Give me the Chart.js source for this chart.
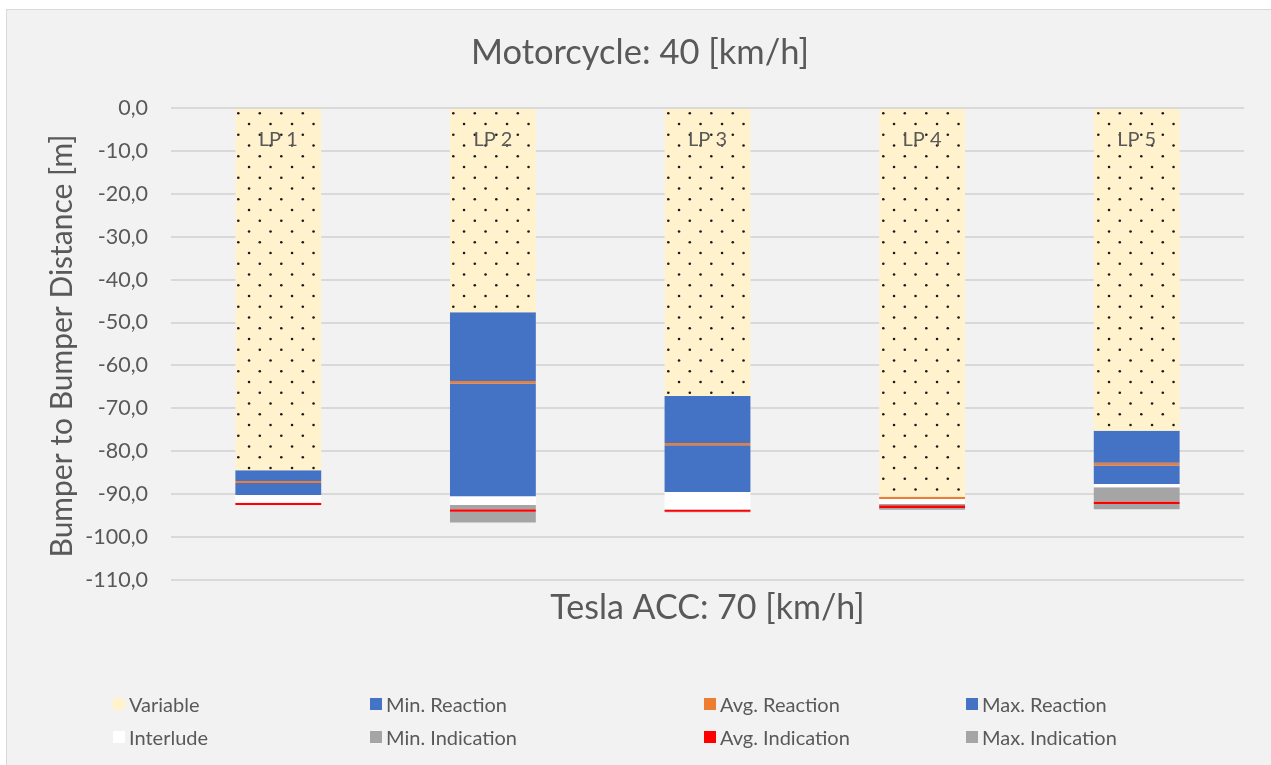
<!DOCTYPE html>
<html>
<head>
<meta charset="utf-8">
<script src="https://cdn.jsdelivr.net/npm/chart.js@4.4.1/dist/chart.umd.min.js"></script>
<style>
  body { margin: 0; background: #ffffff; font-family: Lato, sans-serif; }
  #wrap { position: relative; width: 1271px; height: 765px; overflow: hidden; }
  #frame { position: absolute; left: 6px; top: 9px; right: 0; bottom: 0;
           background: #F2F2F2; border-left: 1px solid #D9D9D9; border-top: 1px solid #D9D9D9; }
  #grafico { position: absolute; left: 0; top: 0; }
  .leg { position: absolute; display: flex; align-items: center; color: #595959; font-size: 20px; white-space: nowrap; }
  .leg span.box { width: 12px; height: 12px; margin-right: 4px; display: inline-block; }
</style>
</head>
<body>
<div id="wrap">
  <div id="frame"></div>
  <canvas id="grafico" width="1271" height="765"></canvas>
  <div id="legenda"></div>
</div>
<script>
// Pontos de medição (LP) e segmentos empilhados, em metros (valores negativos)
const categorias = ['LP 1', 'LP 2', 'LP 3', 'LP 4', 'LP 5'];
const variable      = [-84.4, -47.6, -67.1, -90.6, -75.2];
const minReaction   = [-2.5, -16.0, -11.0, 0, -7.5];
const avgReaction   = [-0.5, -0.6, -0.5, -0.5, -0.6];
const maxReaction   = [-2.8, -26.3, -10.9, 0, -4.3];
const interlude     = [-1.8, -2.0, -4.0, -1.2, -0.8];
const minIndication = [0, -1.0, -0.1, -0.3, -3.3];
const avgIndication = [-0.5, -0.6, -0.5, -0.6, -0.6];
const maxIndication = [0, -2.5, -0.1, -0.4, -1.2];
const ticksY = [0, -10, -20, -30, -40, -50, -60, -70, -80, -90, -100, -110];

const corTexto = '#595959';
const tituloEixoY = 'Bumper to Bumper Distance [m]';

// Padrão pontilhado para o segmento "Variable"
function criarPadrao() {
    const c = document.createElement('canvas');
    c.width = 43; c.height = 43;
    const g = c.getContext('2d');
    g.fillStyle = '#FFF2CC';
    g.fillRect(0, 0, 43, 43);
    g.fillStyle = '#1a1a1a';
    for (let r = 0; r < 4; r++) {
        const y = 5.8 + r * 10.75;
        const x0 = (r % 2 === 0) ? 1.8 : 12.55;
        for (let k = 0; k < 2; k++) {
            g.beginPath();
            g.arc(x0 + k * 21.5, y, 1.3, 0, Math.PI * 2);
            g.fill();
        }
    }
    return g.createPattern(c, 'repeat');
}

const series = [
    { label: 'Variable', data: variable, cor: criarPadrao(), legenda: '#FFF2CC' },
    { label: 'Min. Reaction', data: minReaction, cor: '#4472C4' },
    { label: 'Avg. Reaction', data: avgReaction, cor: '#ED7D31' },
    { label: 'Max. Reaction', data: maxReaction, cor: '#4472C4' },
    { label: 'Interlude', data: interlude, cor: '#FFFFFF' },
    { label: 'Min. Indication', data: minIndication, cor: '#A5A5A5' },
    { label: 'Avg. Indication', data: avgIndication, cor: '#FF0000' },
    { label: 'Max. Indication', data: maxIndication, cor: '#A5A5A5' }
];

// Rótulos "LP n" no topo de cada barra e título do eixo Y
const rotulos = {
    id: 'rotulos',
    afterDatasetsDraw(chart) {
        const ctx = chart.ctx;
        const x = chart.scales.x, y = chart.scales.y;
        const topo = y.getPixelForValue(ticksY[0]);
        const base = y.getPixelForValue(ticksY[ticksY.length - 1]);
        ctx.save();
        ctx.font = '20px Lato';
        ctx.fillStyle = corTexto;
        ctx.textAlign = 'center';
        ctx.textBaseline = 'middle';
        categorias.forEach((c, i) => {
            ctx.fillText(c, x.getPixelForValue(i), topo + 32);
        });
        // título do eixo Y, girado
        ctx.font = '30px Lato';
        ctx.translate(62, (topo + base) / 2 + 2);
        ctx.rotate(-Math.PI / 2);
        ctx.fillText(tituloEixoY, 0, 0);
        ctx.restore();
    }
};

const ctx = document.getElementById('grafico').getContext('2d');
new Chart(ctx, {
    type: 'bar',
    data: {
        labels: categorias,
        datasets: series.map(s => ({
            label: s.label,
            data: s.data,
            backgroundColor: s.cor,
            borderWidth: 0,
            barPercentage: 0.4,
            categoryPercentage: 1.0
        }))
    },
    options: {
        responsive: false,
        animation: false,
        layout: { padding: { left: 36, right: 27, top: 34, bottom: 139 } },
        plugins: {
            legend: { display: false },
            tooltip: { enabled: false },
            title: {
                display: true,
                text: 'Motorcycle: 40 [km/h]',
                color: corTexto,
                font: { family: 'Lato', size: 34.5, weight: 'normal', lineHeight: '38px' },
                padding: { top: 0, bottom: 36 }
            }
        },
        scales: {
            x: {
                stacked: true,
                grid: { display: false },
                border: { display: false },
                ticks: { display: false },
                title: {
                    display: true,
                    text: 'Tesla ACC: 70 [km/h]',
                    color: corTexto,
                    font: { family: 'Lato', size: 34, lineHeight: '36px' },
                    padding: { top: 0, bottom: 0 }
                },
                afterFit(scale) { scale.height = 46; }
            },
            y: {
                stacked: true,
                min: -110,
                max: 0,
                afterBuildTicks(scale) { scale.ticks = ticksY.map(v => ({ value: v })); },
                grid: { color: '#D9D9D9', lineWidth: 2, drawTicks: false },
                border: { display: false },
                ticks: {
                    color: corTexto,
                    font: { family: 'Lato', size: 21.5 },
                    padding: 23,
                    callback: v => v.toFixed(1).replace('.', ',')
                },
                afterFit(scale) { scale.width = 135; }
            }
        }
    },
    plugins: [rotulos]
});

// Legenda em 4 colunas e 2 linhas
const colunasX = [113, 370, 704, 966];
const linhasY = [704, 737];
const leg = document.getElementById('legenda');
series.forEach((s, i) => {
    const item = document.createElement('div');
    item.className = 'leg';
    item.style.left = colunasX[i % 4] + 'px';
    item.style.top = (linhasY[Math.floor(i / 4)] - 13) + 'px';
    item.style.height = '26px';
    item.innerHTML = '<span class="box" style="background:' + (s.legenda || s.cor) + '"></span>' + s.label;
    leg.appendChild(item);
});
</script>
</body>
</html>
